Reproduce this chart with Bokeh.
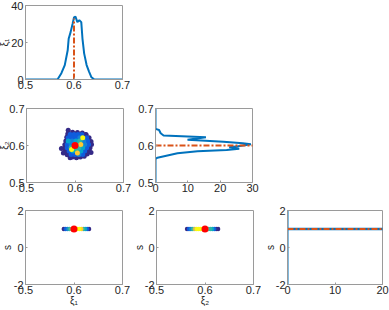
from bokeh.plotting import figure
from bokeh.layouts import column, row
from bokeh.models import Range1d, FixedTicker
from bokeh.transform import linear_cmap
from bokeh.embed import file_html
from bokeh.resources import INLINE

# ---------------- data ----------------
xi_ticks = [0.5, 0.6, 0.7]
xi_tick_labels = ["0.5", "0.6", "0.7"]
d1_ticks = [0, 20, 40]
d1_tick_labels = ["0", "20", "40"]
d2_ticks = [0, 10, 20, 30]
d2_tick_labels = ["0", "10", "20", "30"]
d3_ticks = [0, 10, 20]
d3_tick_labels = ["0", "10", "20"]
s_ticks = [-2, 0, 2]
s_tick_labels = ["-2", "0", "2"]

true_xi1 = 0.6
true_xi2 = 0.6
true_s = 1.0

# marginal density of xi1
xi1_grid = [0.50, 0.566, 0.574, 0.581, 0.587, 0.589, 0.593, 0.597, 0.600, 0.603,
            0.607, 0.611, 0.615, 0.6175, 0.621, 0.626, 0.631, 0.636, 0.642, 0.70]
xi1_density = [0, 0, 3.4, 7.8, 15.8, 22, 25.6, 30, 33.6, 34,
               31, 32, 31, 22, 14, 7.8, 4.3, 1.2, 0, 0]

# marginal density of xi2
xi2_grid = [0.50, 0.564, 0.567, 0.573, 0.579, 0.5846, 0.588, 0.591, 0.595, 0.598,
            0.601, 0.6035, 0.606, 0.610, 0.6155, 0.6225, 0.627, 0.633, 0.642, 0.645, 0.70]
xi2_density = [0, 0, 0.6, 3.7, 6.8, 13, 22, 25.9, 22.8, 25.5,
               28, 29.5, 27, 21, 9.9, 15.6, 2.5, 1.6, 1.1, 0, 0]

# marginal density of s
s_grid = [-2.0, 0.98, 1.0, 1.02, 2.0]
s_density = [0, 0, 60, 0, 0]

# joint samples (xi1, xi2) with relative density
blob_xi1 = [0.586, 0.595, 0.605, 0.615, 0.623, 0.629, 0.633, 0.634, 0.631, 0.629,
            0.625, 0.619, 0.611, 0.603, 0.595, 0.590, 0.584, 0.580, 0.578, 0.579,
            0.581, 0.583, 0.585, 0.572, 0.576, 0.633,
            0.590, 0.598, 0.606, 0.614, 0.622,
            0.586, 0.594, 0.602, 0.610, 0.616, 0.624,
            0.586, 0.594, 0.602, 0.610, 0.618, 0.626,
            0.584, 0.592, 0.600, 0.608, 0.612, 0.620, 0.628,
            0.584, 0.592, 0.600, 0.608, 0.616, 0.624,
            0.593,
            0.588, 0.596, 0.604, 0.612, 0.620,
            0.605,
            0.592, 0.600, 0.608, 0.616]
blob_xi2 = [0.641, 0.636, 0.635, 0.634, 0.629, 0.621, 0.611, 0.603, 0.594, 0.585,
            0.577, 0.571, 0.569, 0.567, 0.569, 0.567, 0.575, 0.583, 0.592, 0.602,
            0.612, 0.622, 0.631, 0.592, 0.580, 0.581,
            0.630, 0.630, 0.630, 0.630, 0.630,
            0.621, 0.621, 0.621, 0.621, 0.621, 0.621,
            0.612, 0.612, 0.612, 0.612, 0.612, 0.612,
            0.603, 0.603, 0.603, 0.603, 0.603, 0.603, 0.603,
            0.594, 0.594, 0.594, 0.594, 0.594, 0.594,
            0.589,
            0.585, 0.585, 0.585, 0.585, 0.585,
            0.580,
            0.576, 0.576, 0.576, 0.576]
blob_dens = [0.0, 0.0, 0.0, 0.0, 0.0, 0.0, 0.0, 0.0, 0.0, 0.0,
             0.0, 0.0, 0.0, 0.0, 0.0, 0.0, 0.0, 0.0, 0.0, 0.0,
             0.0, 0.0, 0.0, 0.05, 0.05, 0.05,
             0.12, 0.15, 0.15, 0.12, 0.1,
             0.15, 0.2, 0.2, 0.25, 0.95, 0.15,
             0.4, 0.25, 0.35, 0.45, 0.3, 0.15,
             0.15, 0.3, 0.55, 0.5, 0.85, 0.3, 0.12,
             0.15, 0.5, 0.55, 0.5, 0.35, 0.2,
             0.9,
             0.2, 0.4, 0.5, 0.35, 0.2,
             0.85,
             0.12, 0.2, 0.25, 0.12]

# samples (xi1, s)
line1_xi1 = [0.579, 0.583, 0.587, 0.591, 0.595, 0.599, 0.603, 0.607, 0.611, 0.615, 0.619, 0.623, 0.627, 0.631]
line1_s = [1.0, 1.0, 1.0, 1.0, 1.0, 1.0, 1.0, 1.0, 1.0, 1.0, 1.0, 1.0, 1.0, 1.0]
line1_dens = [0.05, 0.15, 0.3, 0.45, 0.6, 0.75, 0.85, 0.95, 1.0, 0.8, 0.55, 0.35, 0.15, 0.05]

# samples (xi2, s)
line2_xi2 = [0.563, 0.567, 0.571, 0.575, 0.579, 0.583, 0.587, 0.591, 0.595, 0.599,
             0.603, 0.607, 0.611, 0.615, 0.619, 0.623, 0.627]
line2_s = [1.0, 1.0, 1.0, 1.0, 1.0, 1.0, 1.0, 1.0, 1.0, 1.0,
           1.0, 1.0, 1.0, 1.0, 1.0, 1.0, 1.0]
line2_dens = [0.05, 0.15, 0.3, 0.5, 0.7, 0.9, 1.0, 0.95, 0.85, 0.8,
              0.7, 0.55, 0.45, 0.35, 0.2, 0.1, 0.05]

# ---------------- style ----------------
PARULA = ["#352A87", "#0F5CDD", "#1481D6", "#06A4CA", "#2EB7A4",
          "#87BF77", "#D1BB59", "#FEC832", "#F9FB0E"]
BLUE = "#0072BD"
ORANGE = "#D95319"
BOX = "#9a9a9a"
TXT = "#262626"
FONT = "Liberation Sans"


def make_fig(fw, fh, bl, br, bt, bb, xr, yr, xt, xtl, yt, ytl,
             xlabel=None, ylabel=None, ylab_standoff=-2):
    p = figure(frame_width=fw, frame_height=fh,
               min_border_left=bl, min_border_right=br,
               min_border_top=bt, min_border_bottom=bb,
               x_range=Range1d(*xr), y_range=Range1d(*yr),
               output_backend="svg", toolbar_location=None)
    p.grid.visible = False
    p.outline_line_color = BOX
    p.outline_line_width = 1
    p.outline_line_alpha = 1
    p.background_fill_color = "white"
    p.border_fill_color = "white"
    for ax, ticks, labels in ((p.xaxis[0], xt, xtl), (p.yaxis[0], yt, ytl)):
        ax.ticker = FixedTicker(ticks=ticks)
        ax.major_label_overrides = {t: l for t, l in zip(ticks, labels)}
        ax.major_tick_in = 2
        ax.major_tick_out = 0
        ax.minor_tick_line_color = None
        ax.axis_line_color = BOX
        ax.major_tick_line_color = BOX
        ax.major_label_text_font = FONT
        ax.major_label_text_font_size = "11px"
        ax.major_label_text_color = TXT
        ax.major_label_standoff = 2
        ax.axis_label_text_font = FONT
        ax.axis_label_text_font_size = "10px"
        ax.axis_label_text_font_style = "normal"
        ax.axis_label_text_color = TXT
        ax.axis_label_standoff = -2
    p.xaxis.major_label_standoff = 1
    p.yaxis.axis_label_standoff = ylab_standoff
    if xlabel:
        p.xaxis.axis_label = xlabel
    if ylabel:
        p.yaxis.axis_label = ylabel
    return p


def sorted_by(d, *cols):
    order = sorted(range(len(d)), key=lambda i: d[i])
    return [[c[i] for i in order] for c in cols]


def cmap():
    return linear_cmap("d", PARULA, 0, 1)


# Row 1
p1 = make_fig(97, 74, 29, 8, 5, 14, (0.5, 0.7), (0, 40), xi_ticks, xi_tick_labels,
              d1_ticks, d1_tick_labels, ylabel="ξ₁")
p1.line(xi1_grid, xi1_density, line_color=BLUE, line_width=2)
p1.line([true_xi1, true_xi1], [0, max(xi1_density) - 1], line_color=ORANGE,
        line_width=2, line_dash="6 2 2 2")

# Row 2
p2 = make_fig(97, 74, 29, 8, 15, 15, (0.5, 0.7), (0.5, 0.7), xi_ticks, xi_tick_labels,
              xi_ticks, xi_tick_labels, ylabel="ξ₂", ylab_standoff=-4)
bx, by, bd = sorted_by(blob_dens, blob_xi1, blob_xi2, blob_dens)
p2.scatter(x="x", y="y", size=5, line_color=None, fill_color=cmap(),
           source=dict(x=bx, y=by, d=bd))
p2.scatter([true_xi1], [true_xi2], size=7, fill_color="#FF0000", line_color=None)

p3 = make_fig(97, 74, 24, 8, 15, 15, (0, 30), (0.5, 0.7), d2_ticks, d2_tick_labels,
              xi_ticks, xi_tick_labels)
p3.line(xi2_density, xi2_grid, line_color=BLUE, line_width=2)
p3.line([0, max(xi2_density) + 1], [true_xi2, true_xi2], line_color=ORANGE,
        line_width=2, line_dash="6 2 2 2")

# Row 3
p4 = make_fig(97, 74, 29, 8, 13, 26, (0.5, 0.7), (-2, 2), xi_ticks, xi_tick_labels,
              s_ticks, s_tick_labels, xlabel="ξ₁", ylabel="s")
lx, ly, ld = sorted_by(line1_dens, line1_xi1, line1_s, line1_dens)
p4.scatter(x="x", y="y", size=4.5, line_color=None, fill_color=cmap(),
           source=dict(x=lx, y=ly, d=ld))
p4.scatter([true_xi1], [true_s], size=7, fill_color="#FF0000", line_color=None)

p5 = make_fig(97, 74, 24, 8, 13, 26, (0.5, 0.7), (-2, 2), xi_ticks, xi_tick_labels,
              s_ticks, s_tick_labels, xlabel="ξ₂", ylabel="s", ylab_standoff=-3)
mx, my, md = sorted_by(line2_dens, line2_xi2, line2_s, line2_dens)
p5.scatter(x="x", y="y", size=4.5, line_color=None, fill_color=cmap(),
           source=dict(x=mx, y=my, d=md))
p5.scatter([true_xi2], [true_s], size=7, fill_color="#FF0000", line_color=None)

p6 = make_fig(95, 74, 24, 7, 13, 26, (0, 20), (-2, 2), d3_ticks, d3_tick_labels,
              s_ticks, s_tick_labels, ylabel="s", ylab_standoff=-3)
p6.line(s_density, s_grid, line_color=BLUE, line_width=2)
p6.line([0, max(s_density)], [true_s, true_s], line_color=ORANGE,
        line_width=2, line_dash="6 2 2 2")

layout = column(row(p1), row(p2, p3), row(p4, p5, p6),
                styles={"margin-left": "-4px", "margin-top": "0px"})

open("out.html", "w").write(file_html(layout, INLINE))
